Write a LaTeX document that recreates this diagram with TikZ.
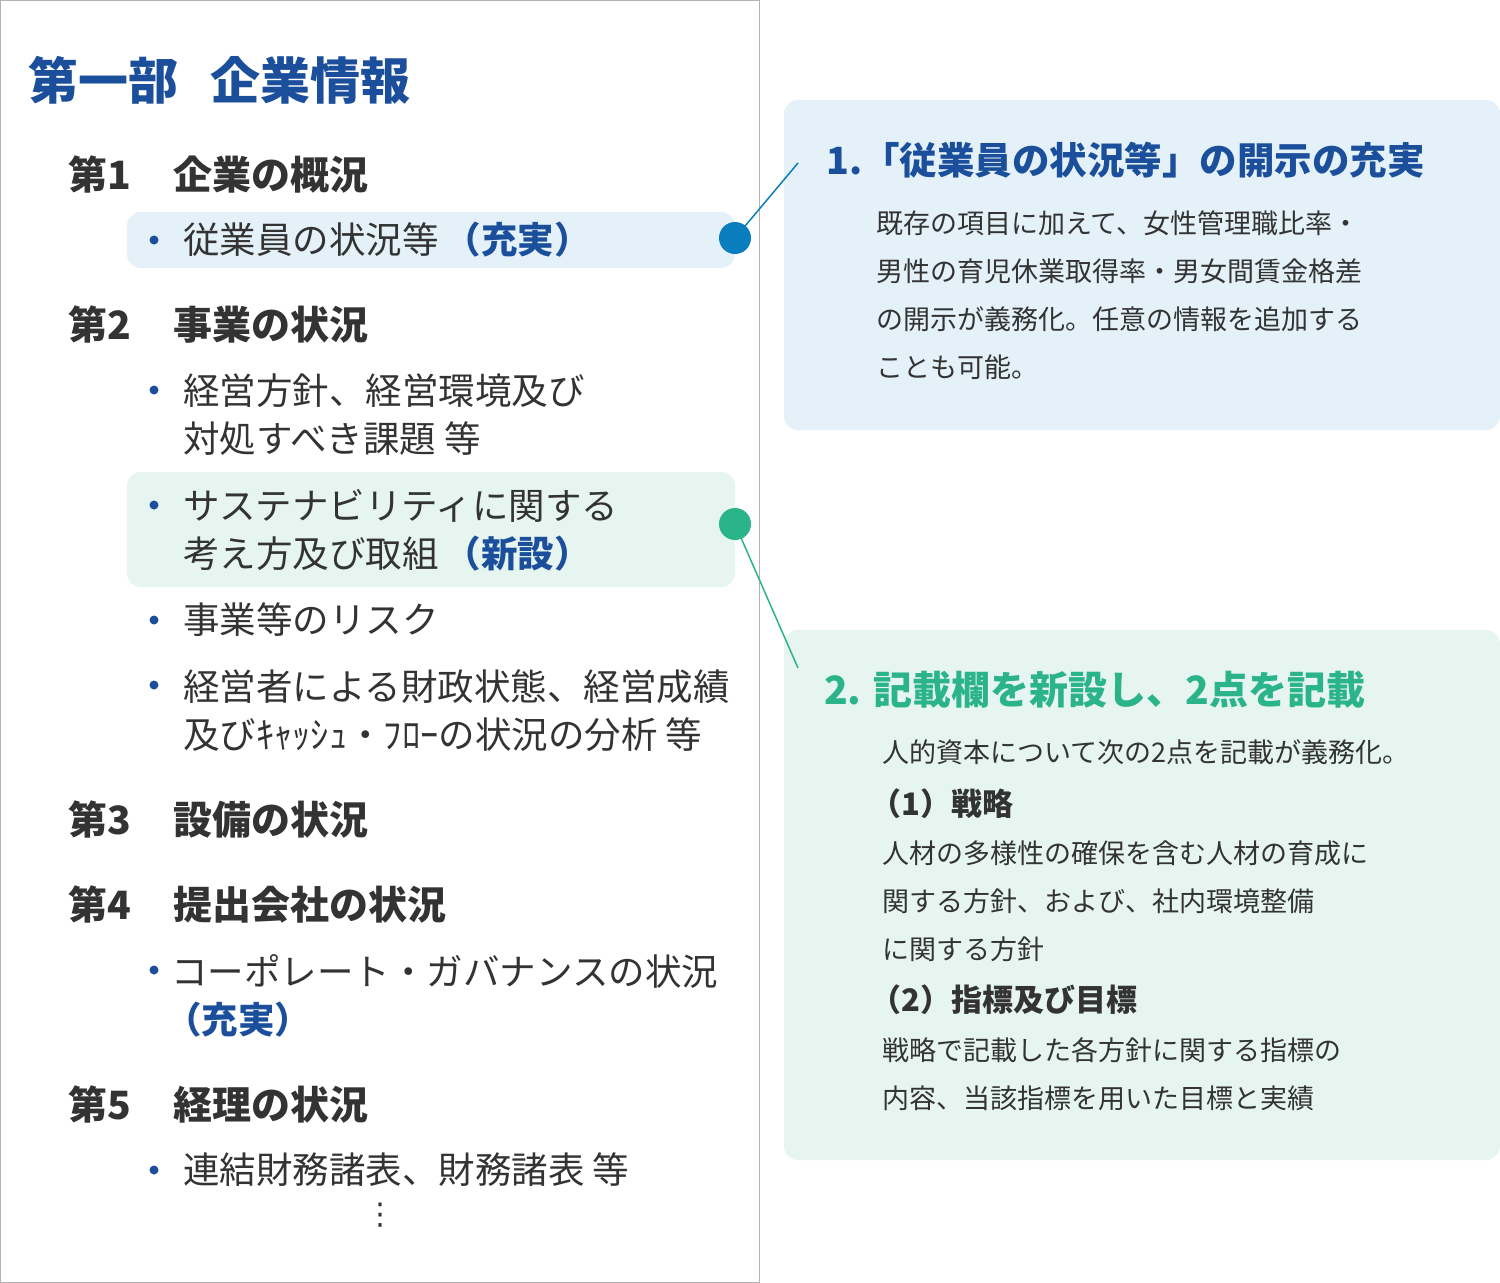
\documentclass[tikz,border=0pt]{standalone}
\usepackage{fontspec}
\setmainfont{Noto Sans CJK JP}
\newfontfamily\djv{DejaVu Sans}
\begin{document}
\begin{tikzpicture}[x=1pt,y=-1pt,
  txt/.style={anchor=west,inner sep=0pt,text=dark},
  ttl/.style={txt,font=\fontsize{50}{54}\selectfont\bfseries,text=blu},
  sec/.style={txt,font=\fontsize{39}{42}\selectfont\bfseries},
  itm/.style={txt,font=\fontsize{36.5}{48}\selectfont,align=left},
  bul/.style={circle,fill=blu,inner sep=0pt,minimum size=9pt},
  body/.style={txt,font=\fontsize{27}{48}\selectfont,align=left},
  bodyb/.style={txt,font=\fontsize{31}{40}\selectfont\bfseries},
  hbox/.style={rounded corners=14pt,draw=none}]
\definecolor{blu}{HTML}{1B4F9C}
\definecolor{dot1}{HTML}{0A7DBE}
\definecolor{grn}{HTML}{2BB38A}
\definecolor{lb}{HTML}{E4F1F8}
\definecolor{lg}{HTML}{E6F5EF}
\definecolor{dark}{HTML}{333333}
\useasboundingbox (0,0) rectangle (1500,1283);
\fill[white] (0,0) rectangle (1500,1283);
\draw[gray!60,line width=1pt] (0.5,0.5) rectangle (759.5,1282.5);
% highlight boxes
\fill[lb,hbox] (127,212) rectangle (735,268);
\fill[lg,hbox] (127,472) rectangle (735,587);
\fill[lb,hbox] (784,100) rectangle (1500,430);
\fill[lg,hbox] (784,630) rectangle (1500,1160);
% left content
\node[ttl] (t) at (28,80) {第一部\hspace{0.65em}企業情報};
\node[sec] (s1) at (68,175) {第1\hspace{1.1em}企業の概況};
\node[bul] (b1) at (154,240) {};
\node[itm] (i1) at (183,240) {従業員の状況等\,{\bfseries\color{blu}（充実）}};
\node[sec] (s2) at (68,325) {第2\hspace{1.1em}事業の状況};
\node[bul] (b2) at (154,390) {};
\node[itm,anchor=north west] (i2) at (183,374) {経営方針、経営環境及び\\対処すべき課題 等};
\node[bul] (b3) at (154,505) {};
\node[itm,anchor=north west] (i3) at (183,489) {サステナビリティに関する\\考え方及び取組\,{\bfseries\color{blu}（新設）}};
\node[bul] (b4) at (154,620) {};
\node[itm] (i4) at (183,620) {事業等のリスク};
\node[bul] (b5) at (154,685) {};
\node[itm,anchor=north west] (i5) at (183,669) {経営者による財政状態、経営成績\\及びｷｬｯｼｭ・ﾌﾛｰの状況の分析 等};
\node[sec] (s3) at (68,820) {第3\hspace{1.1em}設備の状況};
\node[sec] (s4) at (68,905) {第4\hspace{1.1em}提出会社の状況};
\node[bul] (b6) at (154,970) {};
\node[itm,anchor=north west] (i6) at (165,954) {\,コーポレート・ガバナンスの状況\\{\bfseries\color{blu}（充実）}};
\node[sec] (s5) at (68,1105) {第5\hspace{1.1em}経理の状況};
\node[bul] (b7) at (154,1170) {};
\node[itm] (i7) at (183,1170) {連結財務諸表、財務諸表 等};
\node[txt,font=\djv\fontsize{30}{30}\selectfont,anchor=center] (dots) at (380,1215) {⋮};
% connectors
\coordinate (e1) at (798,163);
\coordinate (e2) at (798,668);
\node[circle,fill=dot1,minimum size=32pt,inner sep=0pt] (d1) at (735,238) {};
\node[circle,fill=grn,minimum size=32pt,inner sep=0pt] (d2) at (735,524) {};
\draw[dot1,line width=1.5pt] (d1.center) -- (e1);
\draw[grn,line width=1.5pt] (d2.center) -- (e2);
% right box 1
\node[txt,font=\fontsize{37.5}{40}\selectfont\bfseries,text=blu] (h1) at (826,160) {1.「従業員の状況等」の開示の充実};
\node[body,anchor=north west] (p1) at (876,210) {既存の項目に加えて、女性管理職比率・\\男性の育児休業取得率・男女間賃金格差\\の開示が義務化。任意の情報を追加する\\ことも可能。};
% right box 2
\node[txt,font=\fontsize{39}{42}\selectfont\bfseries,text=grn] (h2) at (824,690) {2. 記載欄を新設し、2点を記載};
\node[body] (p2) at (882,752) {人的資本について次の2点を記載が義務化。};
\node[bodyb] (q1) at (870,804) {（1）戦略};
\node[body,anchor=north west] (p3) at (882,841) {人材の多様性の確保を含む人材の育成に\\関する方針、および、社内環境整備\\に関する方針};
\node[bodyb] (q2) at (870,1000) {（2）指標及び目標};
\node[body,anchor=north west] (p4) at (882,1037) {戦略で記載した各方針に関する指標の\\内容、当該指標を用いた目標と実績};
\end{tikzpicture}
\end{document}
